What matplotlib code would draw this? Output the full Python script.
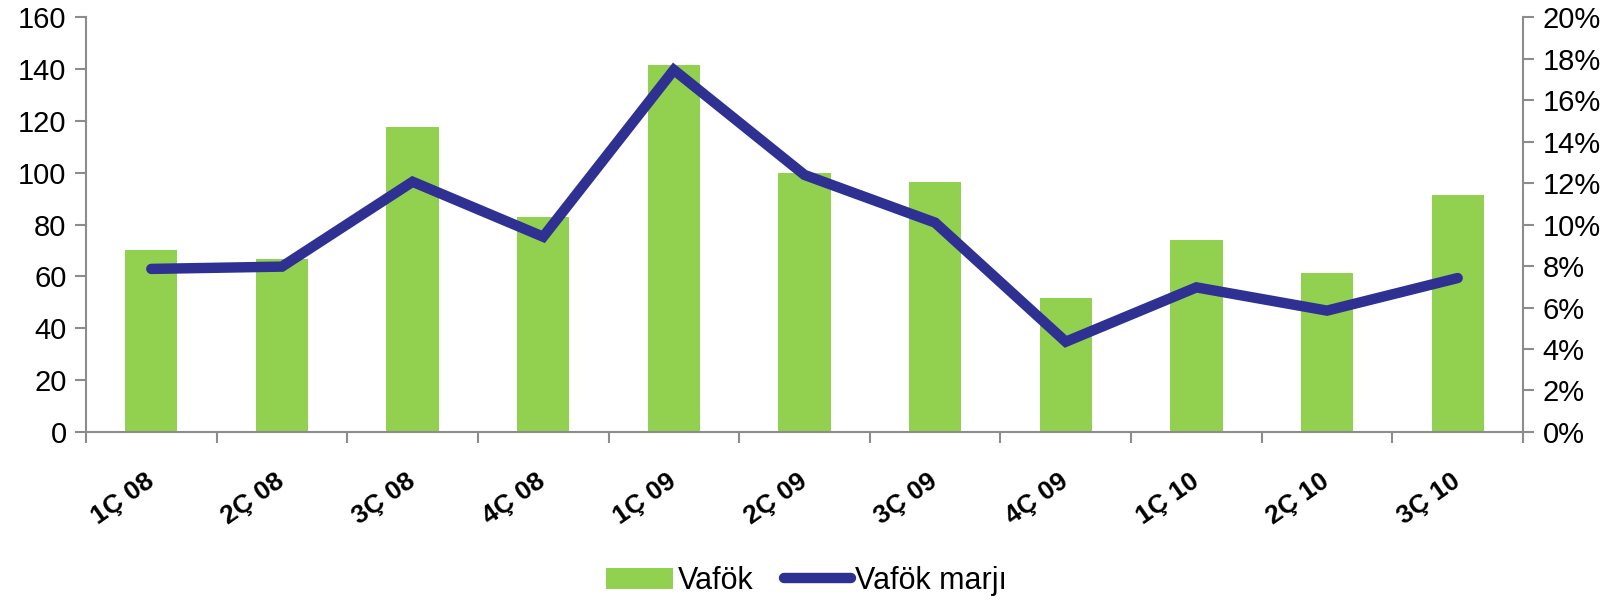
import matplotlib
matplotlib.use('Agg')
import matplotlib.pyplot as plt
from matplotlib.patches import Patch
from matplotlib.lines import Line2D
from matplotlib.ticker import FuncFormatter, FixedLocator
import numpy as np

plt.rcParams['font.family'] = ['Liberation Sans', 'DejaVu Sans']

# data
quarters = ['1Ç 08', '2Ç 08', '3Ç 08', '4Ç 08', '1Ç 09', '2Ç 09',
            '3Ç 09', '4Ç 09', '1Ç 10', '2Ç 10', '3Ç 10']
vafok = [70.2, 66.6, 117.5, 82.9, 141.5, 100.0, 96.5, 51.8, 74.0, 61.3, 91.3]
vafok_marji = [7.86, 7.97, 12.06, 9.41, 17.45, 12.39, 10.09, 4.35, 6.97, 5.85, 7.42]

bar_color = '#92D050'
line_color = '#2E3192'
axis_gray = '#8C8C8C'

fig = plt.figure(figsize=(16.13, 6.01), dpi=100)
ax = fig.add_axes([0.0533, 0.2812, 0.8909, 0.6905])
ax2 = ax.twinx()

x = np.arange(len(quarters))
ax.bar(x, vafok, width=0.4, color=bar_color, zorder=2)
ax2.plot(x, vafok_marji, color=line_color, lw=7.5,
         solid_capstyle='round', solid_joinstyle='miter', zorder=3)

ax.set_xlim(-0.5, len(quarters) - 0.5)
ax.set_ylim(0, 160)
ax2.set_ylim(0, 20)
ax.set_yticks(range(0, 161, 20))
ax2.set_yticks(range(0, 21, 2))
ax2.yaxis.set_major_formatter(FuncFormatter(lambda v, p: f'{v:.0f}%'))

# category labels at centres, tick marks at boundaries
ax.set_xticks(x)
ax.set_xticklabels(quarters, rotation=35, ha='right', va='center',
                   rotation_mode='anchor', fontweight='bold', fontsize=19)
ax.tick_params(axis='x', which='major', length=0, pad=34)
ax.xaxis.set_minor_locator(FixedLocator(np.arange(-0.5, len(quarters), 1.0)))
ax.tick_params(axis='x', which='minor', length=8, width=1.5, color=axis_gray, direction='out')

ax.tick_params(axis='y', length=8, width=1.5, color=axis_gray, labelsize=21, pad=6)
ax2.tick_params(axis='y', length=8, width=1.5, color=axis_gray, labelsize=21, pad=6)

for a in (ax, ax2):
    a.spines['top'].set_visible(False)
    for s in ('left', 'right', 'bottom'):
        a.spines[s].set_color(axis_gray)
        a.spines[s].set_linewidth(1.5)
ax.spines['right'].set_visible(False)
ax2.spines['left'].set_visible(False)
ax2.spines['bottom'].set_visible(False)

handles = [Patch(facecolor=bar_color, edgecolor='none'),
           Line2D([0], [0], color=line_color, lw=7.5, solid_capstyle='round')]
fig.legend(handles, ['Vafök', 'Vafök marjı'], loc='center', bbox_to_anchor=(0.5, 0.033),
           ncol=2, frameon=False, fontsize=22, handlelength=2.2, handletextpad=0.15,
           columnspacing=1.0)

fig.savefig('out.png', dpi=100)
